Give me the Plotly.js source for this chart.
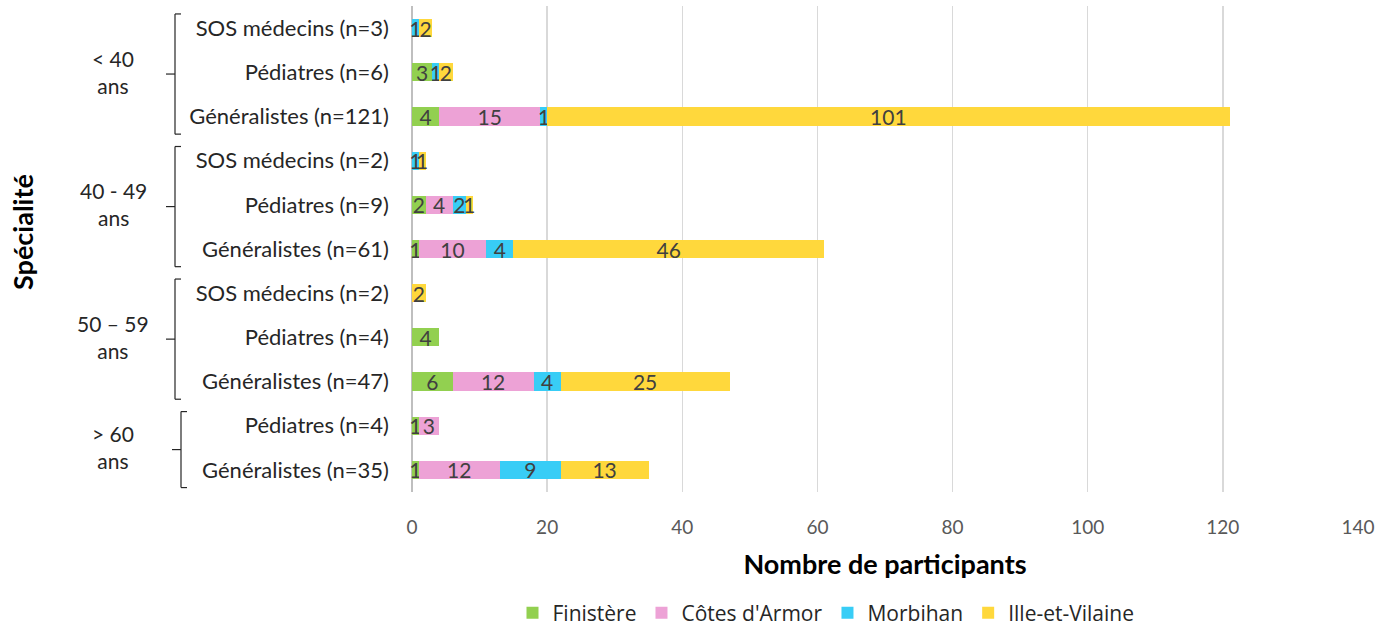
<!DOCTYPE html>
<html>
<head>
<meta charset="utf-8">
<script src="https://cdn.plot.ly/plotly-3.0.1.min.js"></script>
<style>html,body{margin:0;padding:0;background:#fff}#chart{width:1396px;height:627px}</style>
</head>
<body>
<div id="chart"></div>
<script>
// Rows top to bottom
var categories = [
  "SOS médecins (n=3)", "Pédiatres (n=6)", "Généralistes (n=121)",
  "SOS médecins (n=2)", "Pédiatres (n=9)", "Généralistes (n=61)",
  "SOS médecins (n=2)", "Pédiatres (n=4)", "Généralistes (n=47)",
  "Pédiatres (n=4)", "Généralistes (n=35)"
];
var ageGroups = ["< 40<br>ans", "40 - 49<br>ans", "50 – 59<br>ans", "> 60<br>ans"];
var ageGroupRows = [[0, 2], [3, 5], [6, 8], [9, 10]];
var seriesNames = ["Finistère", "Côtes d'Armor", "Morbihan", "Ille-et-Vilaine"];
var finistere   = [0, 3, 4,   0, 2, 1,  0, 4, 6,  1, 1];
var cotesArmor  = [0, 0, 15,  0, 4, 10, 0, 0, 12, 3, 12];
var morbihan    = [1, 1, 1,   1, 2, 4,  0, 0, 4,  0, 9];
var illeVilaine = [2, 2, 101, 1, 1, 46, 2, 0, 25, 0, 13];
var colors = ["#92d050", "#eda2d6", "#38cdf6", "#ffd83c"];
var xTicks = [0, 20, 40, 60, 80, 100, 120, 140];

var seriesValues = [finistere, cotesArmor, morbihan, illeVilaine];
var rowIdx = categories.map(function(_, i){ return i; });

var labelFont = "Lato, 'Open Sans', sans-serif";
var traces = seriesValues.map(function(vals, s){
  return {
    type: "bar", orientation: "h",
    name: seriesNames[s],
    x: vals, y: rowIdx,
    width: 0.41,
    marker: {color: colors[s]},
    text: vals.map(function(v){ return v > 0 ? String(v) : ""; }),
    textposition: "inside",
    insidetextanchor: "middle",
    textangle: 0,
    constraintext: "none",
    cliponaxis: false,
    textfont: {family: labelFont, size: 21, color: "#404040"},
    hoverinfo: "x+name"
  };
});

// plot geometry for paper conversions
var L = 412, R = 38, T = 6, B = 135, W = 1396, H = 627;
var pw = W - L - R, ph = H - T - B;
function px2paper(px){ return (px - L) / pw; }
function py2paper(py){ return (H - B - py) / ph; }

var shapes = [], annotations = [];
var bracketX = [175, 175, 175, 181];
ageGroupRows.forEach(function(g, k){
  var x0 = px2paper(bracketX[k]);
  var xr = px2paper(bracketX[k] + 6);
  var xl = px2paper(bracketX[k] - 9);
  var top = g[0] - 0.32, bot = g[1] + 0.4;
  var mid = (top + bot) / 2;
  var ln = {color: "#262626", width: 1.2};
  shapes.push({type: "line", xref: "paper", yref: "y", x0: x0, x1: x0, y0: top, y1: bot, line: ln});
  shapes.push({type: "line", xref: "paper", yref: "y", x0: x0, x1: xr, y0: top, y1: top, line: ln});
  shapes.push({type: "line", xref: "paper", yref: "y", x0: x0, x1: xr, y0: bot, y1: bot, line: ln});
  shapes.push({type: "line", xref: "paper", yref: "y", x0: xl, x1: x0, y0: mid, y1: mid, line: ln});
  annotations.push({
    xref: "paper", yref: "y", x: px2paper(113), y: mid - 0.05,
    text: ageGroups[k], showarrow: false, xanchor: "center", yanchor: "middle",
    align: "center",
    font: {family: labelFont, size: 21, color: "#262626"}
  });
});
annotations.push({
  xref: "paper", yref: "paper", x: px2paper(22), y: py2paper(232),
  text: "<b>Spécialité</b>", textangle: -90, showarrow: false,
  xanchor: "center", yanchor: "middle",
  font: {family: labelFont, size: 27, color: "#000"}
});

var layout = {
  width: W, height: H,
  margin: {l: L, r: R, t: T, b: B},
  paper_bgcolor: "#fff", plot_bgcolor: "#fff",
  barmode: "stack",
  showlegend: true,
  legend: {
    orientation: "h", x: px2paper(826), xanchor: "center",
    yref: "container", y: (H - 613) / H, yanchor: "middle",
    font: {family: "'Open Sans', sans-serif", size: 21, color: "#262626"},
    traceorder: "normal", itemwidth: 30
  },
  xaxis: {
    range: [0, 140], tickvals: xTicks, ticktext: xTicks.map(String),
    showgrid: true, gridcolor: "#d9d9d9", gridwidth: 1.5,
    zeroline: true, zerolinecolor: "#bfbfbf", zerolinewidth: 2,
    showline: false, ticks: "", automargin: false,
    tickfont: {family: labelFont, size: 19, color: "#595959"},
    ticklabelstandoff: 22,
    title: {text: "<b>Nombre de participants</b>", font: {family: labelFont, size: 27, color: "#000"}, standoff: 18},
    fixedrange: true
  },
  yaxis: {
    range: [10.5, -0.5],
    tickvals: rowIdx, ticktext: categories,
    showgrid: false, zeroline: false, showline: false, ticks: "", automargin: false,
    tickfont: {family: labelFont, size: 22, color: "#262626"},
    ticklabelstandoff: 22,
    fixedrange: true
  },
  shapes: shapes,
  annotations: annotations,
  font: {family: labelFont}
};

Plotly.newPlot("chart", traces, layout, {displayModeBar: false, staticPlot: true});
</script>
</body>
</html>
